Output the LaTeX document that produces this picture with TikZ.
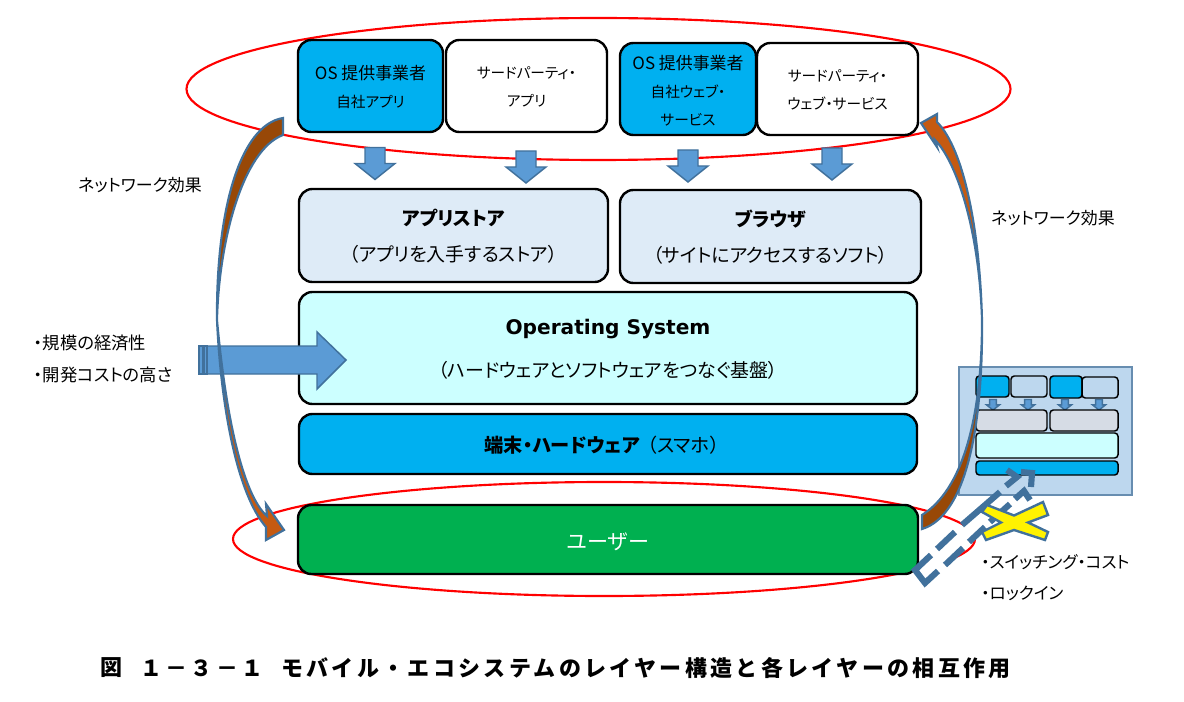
\documentclass[tikz,border=0pt]{standalone}
\usepackage{fontspec}
\usetikzlibrary{shapes.geometric}
\setmainfont{Noto Sans CJK JP}[RawFeature={+palt}]
\newfontfamily\capfont{Noto Sans CJK JP}[LetterSpace=15.2]
\newfontfamily\latinb{DejaVu Sans}
\definecolor{skyb}{HTML}{00B0F0}
\definecolor{paleb}{HTML}{DEEBF7}
\definecolor{cyanb}{HTML}{CCFFFF}
\definecolor{greenb}{HTML}{00B050}
\definecolor{steel}{HTML}{41719C}
\definecolor{arrowb}{HTML}{5B9BD5}
\definecolor{miniback}{HTML}{BDD7EE}
\definecolor{minigrey}{HTML}{D6DCE5}
\definecolor{brownd}{HTML}{984807}
\definecolor{browno}{HTML}{C55A11}
\newcommand\kn[1]{{\fontsize{11}{21}\selectfont #1}}
\tikzset{
  x=0.75pt,y=-0.75pt,
  lbl/.style={inner sep=0pt,align=center,font=\fontsize{12.7}{21}\selectfont},
  sidelbl/.style={inner sep=0pt,anchor=west,font=\fontsize{12.5}{21}\selectfont},
  boxbase/.style={draw=black,line width=1.8pt,rounded corners=10pt,inner sep=0pt},
  minibox/.style={draw=black,line width=1.1pt,rounded corners=2.5pt,inner sep=0pt},
  redring/.style={draw=red,line width=1.6pt,ellipse,inner sep=0pt},
  blockarrow/.style={fill=arrowb,draw=steel,line width=1.1pt,line join=miter},
  curveline/.style={draw=steel,line width=1.6pt,line join=miter},
  captxt/.style={inner sep=0pt,font=\capfont\bfseries\fontsize{16.5}{20}\selectfont},
}
% name, x1, y1, x2, y2, box style, text drop, text style, text
\newcommand\boxat[9]{%
  \pgfmathsetmacro\bw{(#4-#2)*0.75}\pgfmathsetmacro\bh{(#5-#3)*0.75}%
  \node[#6,minimum width=\bw pt,minimum height=\bh pt] (#1) at ({(#2+#4)/2},{(#3+#5)/2}) {};
  \node[inner sep=0pt,align=center,#8] (#1t) at ({(#2+#4)/2},{(#3+#5)/2+#7}) {#9};}
\newcommand\plainbox[6]{%
  \pgfmathsetmacro\bw{(#4-#2)*0.75}\pgfmathsetmacro\bh{(#5-#3)*0.75}%
  \node[#6,minimum width=\bw pt,minimum height=\bh pt] (#1) at ({(#2+#4)/2},{(#3+#5)/2}) {};}
\newcommand\dnarrow[3]{% cx, top, scale
  \begin{scope}[shift={(#1,#2)},scale=#3]
  \draw[blockarrow] (-10,0)--(10,0)--(10,16)--(20,16)--(0,32)--(-20,16)--(-10,16)--cycle;
  \end{scope}}
\begin{document}
\begin{tikzpicture}
\path[use as bounding box] (0,0) rectangle (1184,702);
% rings
\node[redring,minimum width=618pt,minimum height=106.5pt] (topring) at (598.5,89) {};
\node[redring,minimum width=556.5pt,minimum height=85.5pt] (userring) at (604,539) {};
% top boxes
\boxat{osapp}{298}{40}{443}{132}{boxbase,fill=skyb}{1}{lbl}{OS 提供事業者\\\kn{自社アプリ}}
\boxat{tpapp}{446}{40}{607}{132}{boxbase,fill=white}{1}{lbl}{\kn{サードパーティ・}\\\kn{アプリ}}
\boxat{osweb}{620}{43}{756}{135}{boxbase,fill=skyb}{2}{lbl}{OS 提供事業者\\\kn{自社ウェブ・}\\\kn{サービス}}
\boxat{tpweb}{757}{43}{918}{135}{boxbase,fill=white}{1}{lbl}{\kn{サードパーティ・}\\\kn{ウェブ・サービス}}
% down arrows
\dnarrow{375}{147.5}{1}
\dnarrow{526}{151}{1}
\dnarrow{688}{150}{1}
\dnarrow{832}{148}{1}
% layers
\boxat{store}{299}{189}{608}{282}{boxbase,fill=paleb}{0.5}{font=\fontsize{14.2}{27}\selectfont}{\textbf{アプリストア}\\（アプリを入手するストア）}
\boxat{browser}{620}{190}{921}{283}{boxbase,fill=paleb}{1}{font=\fontsize{14.2}{27}\selectfont}{\textbf{ブラウザ}\\（サイトにアクセスするソフト）}
\boxat{osys}{299}{292}{917}{404}{boxbase,fill=cyanb}{1}{font=\fontsize{14.2}{32}\selectfont}{{\latinb\bfseries\fontsize{15.1}{32}\selectfont Operating System}\\（ハードウェアとソフトウェアをつなぐ基盤）}
\boxat{hardw}{299}{414}{917}{474}{boxbase,fill=skyb}{1}{font=\fontsize{14.4}{20}\selectfont,xshift=-4.5pt}{\textbf{端末・ハードウェア}\hspace{6pt}（スマホ）}
\boxat{usr}{298}{505}{918}{574}{boxbase,fill=greenb}{2}{text=white,font=\fontsize{15.8}{20}\selectfont}{ユーザー}
% big block arrow with striped tail
\draw[blockarrow] (205,346)--(317,346)--(317,332)--(346,360)--(317,389)--(317,374)--(205,374)--cycle;
\draw[blockarrow] (199,346) rectangle (203,374);
\draw[blockarrow] (204,346) rectangle (207,374);
% white body of switching arrow, under the mini diagram
\fill[white] (915,570)--(1017,478)--(1007,471)--(1032,473)--(1030,500)--(1024,492)--(925,583)--cycle;
% mini diagram
\plainbox{minibg}{959}{367}{1132}{495}{draw=steel!80,line width=1.3pt,fill=miniback,inner sep=0pt}
\plainbox{ma}{976}{376}{1009}{397}{minibox,fill=skyb}
\plainbox{mb}{1011}{376}{1047}{397}{minibox,fill=miniback}
\plainbox{mc}{1050}{376}{1082}{398}{minibox,fill=skyb}
\plainbox{md}{1082}{377}{1118}{398}{minibox,fill=miniback}
\dnarrow{993}{399.5}{0.33}
\dnarrow{1028}{399.5}{0.33}
\dnarrow{1065}{399.5}{0.33}
\dnarrow{1099}{399.5}{0.33}
\plainbox{me}{976}{410}{1047}{431}{minibox,fill=minigrey}
\plainbox{mf}{1050}{410}{1118}{431}{minibox,fill=minigrey}
\plainbox{mg}{976}{433}{1118}{458}{minibox,fill=cyanb}
\plainbox{mh}{976}{461}{1118}{475}{minibox,fill=skyb}
% dashed switching arrow
\draw[draw=steel,line width=4.6pt,line join=miter]
  (931,555)--(915,570)--(925,583)--(938,571)
  (937,549)--(955,532) (962,525)--(1000,492) (1006,486)--(1017,477)--(1007,470)
  (945,565)--(963,548) (969,542)--(985,527) (990,522)--(1010,504) (1015,499)--(1024,491)--(1030,500)
  (1021,472)--(1032,473)--(1031,487);
% yellow cross
\draw[fill=yellow,draw=steel,line width=1.8pt,line join=miter]
  (982,512)--(987,505)--(1014,515.5)--(1043,502)--(1048,515)--(1028,522.5)--(1048,532)--(1045,540)--(1014,530)--(986,540)--(982,532)--(1001,522.5)--cycle;
% left curved arrow
\fill[brownd] (283,118) .. controls (240,125) and (216,210) .. (217,320)
  .. controls (219,240) and (243,150) .. (283,135) -- cycle;
\fill[browno] (217,320) .. controls (221,410) and (238,495) .. (266,527)
  -- (266,540) -- (284,530) -- (266,504) -- (267,516) .. controls (248,500) and (228,440) .. (217,320) -- cycle;
\draw[curveline] (283,118) .. controls (240,125) and (216,210) .. (217,320)
  .. controls (221,410) and (238,495) .. (266,527)
  -- (266,540) -- (284,530) -- (266,504) -- (267,516) .. controls (248,500) and (228,440) .. (217,320)
  .. controls (219,240) and (243,150) .. (283,135) -- cycle;
% right curved arrow
\fill[browno] (982,320) .. controls (980,235) and (965,150) .. (937,122)
  -- (937,114) -- (921,123) -- (937,147) -- (935,140) .. controls (955,160) and (979,225) .. (982,320) -- cycle;
\fill[brownd] (982,320) .. controls (982,420) and (962,490) .. (922,515)
  -- (922,529) .. controls (968,515) and (983,420) .. (982,320) -- cycle;
\draw[curveline] (922,515) .. controls (962,490) and (982,420) .. (982,320)
  .. controls (980,235) and (965,150) .. (937,122)
  -- (937,114) -- (921,123) -- (937,147) -- (935,140) .. controls (955,160) and (979,225) .. (982,320)
  .. controls (983,420) and (968,515) .. (922,529) -- cycle;
% labels
\node[lbl] (netl) at (140,185) {ネットワーク効果};
\node[lbl] (netr) at (1053,218) {ネットワーク効果};
\node[sidelbl,font=\fontsize{13}{21}\selectfont] (scale1) at (34,343) {・規模の経済性};
\node[sidelbl,font=\fontsize{13}{21}\selectfont] (scale2) at (34,375) {・開発コストの高さ};
\node[sidelbl] (lock1) at (981,562) {・スイッチング・コスト};
\node[sidelbl] (lock2) at (981,593) {・ロックイン};
% caption
\node[captxt,anchor=west] (capa) at (100,668) {図};
\node[captxt,anchor=west] (capb) at (140,668) {１－３－１};
\node[captxt,anchor=east] (capc) at (1011,668) {モバイル・エコシステムのレイヤー構造と各レイヤーの相互作用};
\end{tikzpicture}
\end{document}
